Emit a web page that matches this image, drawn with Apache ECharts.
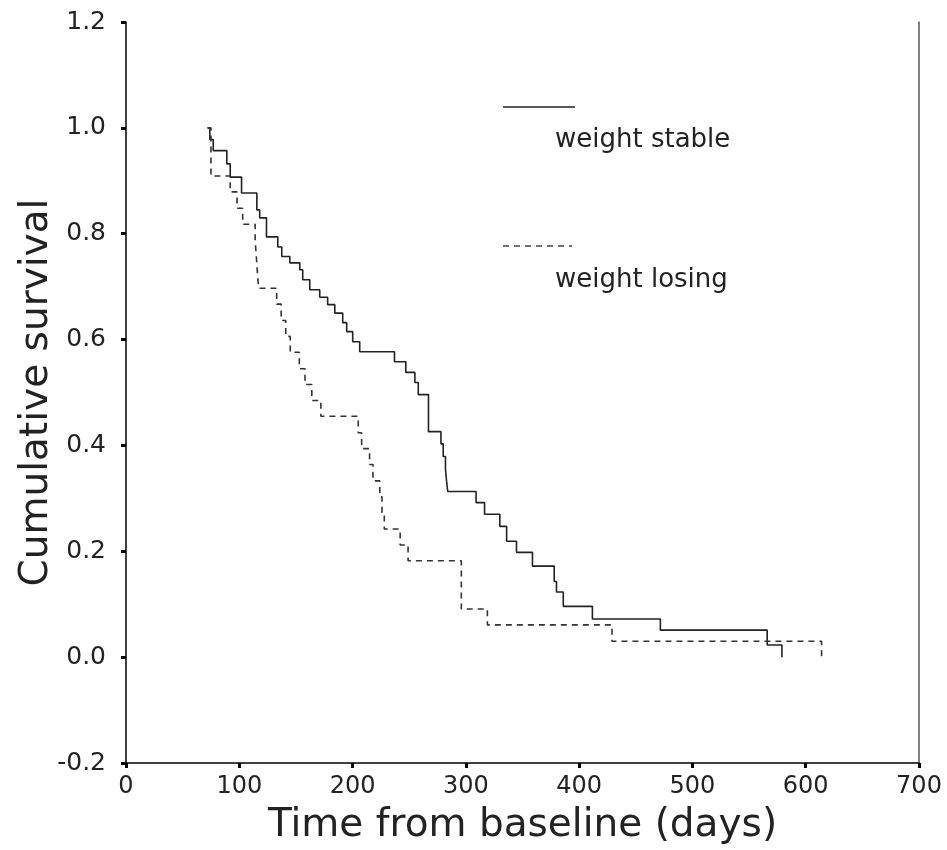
<!DOCTYPE html>
<html>
<head>
<meta charset="utf-8">
<script src="https://cdn.jsdelivr.net/npm/echarts@6/dist/echarts.min.js"></script>
<style>
html,body{margin:0;padding:0;background:#fff;}
#chart{width:947px;height:850px;}
</style>
</head>
<body>
<div id="chart"></div>
<script>
// Kaplan-Meier step data
const stableDays = [72, 74, 77, 89, 92, 102, 115.5, 118, 124, 134, 137.5, 144.6, 153.4, 156, 162.2, 171, 178, 184.3, 191.3, 194.8, 200.1, 206.3, 237, 247, 255, 258, 267, 278, 280, 282, 283, 284, 309, 316.5, 330, 336, 344.7, 358.8, 378, 380, 386, 411.7, 471.7, 566, 579];
const stableSurv = [1.0, 0.978, 0.957, 0.932, 0.907, 0.877, 0.845, 0.83, 0.794, 0.775, 0.757, 0.745, 0.732, 0.713, 0.694, 0.68, 0.666, 0.65, 0.632, 0.615, 0.596, 0.577, 0.558, 0.538, 0.519, 0.496, 0.426, 0.403, 0.379, 0.355, 0.332, 0.313, 0.292, 0.27, 0.247, 0.219, 0.198, 0.172, 0.143, 0.123, 0.096, 0.072, 0.051, 0.023, 0.0];

const losingDays = [72, 75, 92, 98, 103, 114, 115, 116, 117, 133, 137, 141, 145, 153, 158, 164, 172, 205, 208, 215, 218, 224, 226, 228, 242, 249, 296, 319, 429, 614];
const losingSurv = [1.0, 0.909, 0.879, 0.848, 0.818, 0.788, 0.758, 0.727, 0.697, 0.667, 0.636, 0.606, 0.576, 0.545, 0.515, 0.485, 0.455, 0.424, 0.394, 0.364, 0.333, 0.303, 0.273, 0.242, 0.212, 0.182, 0.091, 0.061, 0.030, 0.0];

const seriesNames = ['weight stable', 'weight losing'];
const xTitle = 'Time from baseline (days)';
const yTitle = 'Cumulative survival';

const FONT = '"DejaVu Sans", sans-serif';
const chart = echarts.init(document.getElementById('chart'), null, {renderer: 'canvas'});

const pairs = (xs, ys) => xs.map((x, i) => [x, ys[i]]);

const option = {
  animation: false,
  backgroundColor: '#fff',
  grid: {left: 126, right: 28, top: 22, bottom: 85},
  xAxis: {
    type: 'value', min: 0, max: 700, interval: 100,
    name: xTitle, nameLocation: 'middle', nameGap: 43, nameMoveOverlap: false,
    nameTextStyle: {fontFamily: FONT, fontSize: 39, color: '#222'},
    axisLine: {show: true, onZero: false, lineStyle: {color: '#000', width: 1.5}},
    axisTick: {show: true, length: 5, lineStyle: {color: '#000', width: 3}},
    axisLabel: {fontFamily: FONT, fontSize: 24, color: '#222', margin: 12},
    splitLine: {show: false}
  },
  yAxis: [{
    type: 'value', min: -0.2, max: 1.2, interval: 0.2,
    name: yTitle, nameLocation: 'middle', nameGap: 70, nameRotate: 90, nameMoveOverlap: false,
    nameTextStyle: {fontFamily: FONT, fontSize: 39, color: '#222'},
    axisLine: {show: true, onZero: false, lineStyle: {color: '#000', width: 1.5}},
    axisTick: {show: true, length: 5, lineStyle: {color: '#000', width: 3}},
    axisLabel: {fontFamily: FONT, fontSize: 25, color: '#222', margin: 20,
      formatter: v => v.toFixed(1)},
    splitLine: {show: false}
  }, {
    type: 'value', min: -0.2, max: 1.2, interval: 0.2, position: 'right',
    axisLine: {show: true, onZero: false, lineStyle: {color: '#555', width: 1.5}},
    axisTick: {show: false}, axisLabel: {show: false}, splitLine: {show: false}
  }],
  series: [{
    name: seriesNames[0], type: 'line', step: 'end', showSymbol: false, symbol: 'none',
    data: pairs(stableDays, stableSurv),
    lineStyle: {color: '#222', width: 1.6, type: 'solid'}
  }, {
    name: seriesNames[1], type: 'line', step: 'end', showSymbol: false, symbol: 'none',
    data: pairs(losingDays, losingSurv),
    lineStyle: {color: '#333', width: 1.6, type: [6, 5]}
  }],
  graphic: [
    {type: 'line', shape: {x1: 503, y1: 107, x2: 575, y2: 107},
      style: {stroke: '#222', lineWidth: 1.5}},
    {type: 'text', x: 555, y: 140,
      style: {text: seriesNames[0], font: '26px ' + FONT, fill: '#222', verticalAlign: 'middle', align: 'left'}},
    {type: 'line', shape: {x1: 503, y1: 246, x2: 572, y2: 246},
      style: {stroke: '#444', lineWidth: 1.5, lineDash: [6, 5]}},
    {type: 'text', x: 555, y: 280,
      style: {text: seriesNames[1], font: '26px ' + FONT, fill: '#222', verticalAlign: 'middle', align: 'left'}}
  ]
};
chart.setOption(option);
</script>
</body>
</html>
